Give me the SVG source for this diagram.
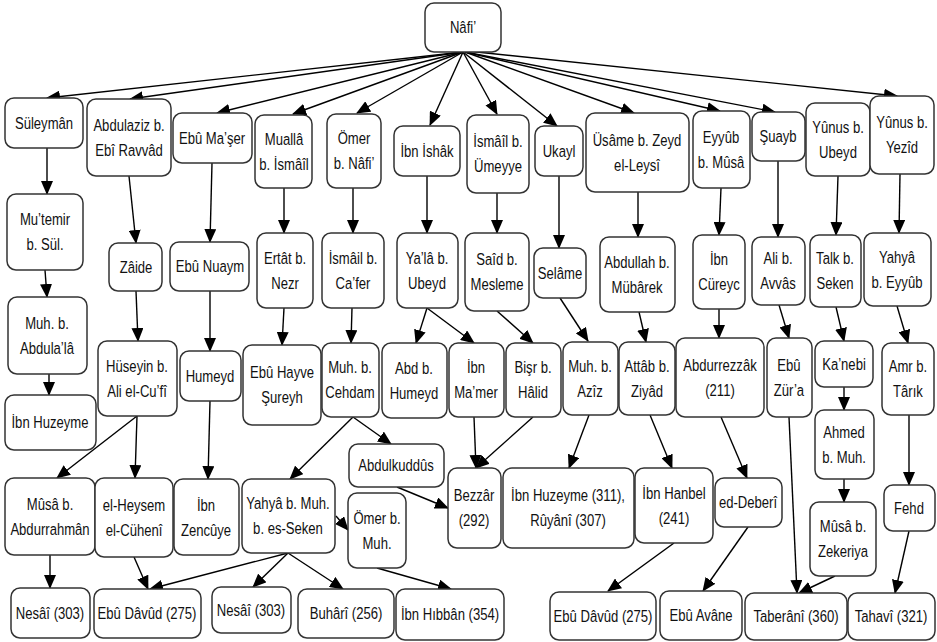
<svg xmlns="http://www.w3.org/2000/svg" width="937" height="642" viewBox="0 0 937 642">
<defs>
<marker id="ah" markerUnits="userSpaceOnUse" markerWidth="14" markerHeight="12" refX="13" refY="6" orient="auto">
<path d="M0,0 L14,6 L0,12 z" fill="#000"/>
</marker>
<style>
rect{fill:#fff;stroke:#333;stroke-width:1.5}
text{font-family:"Liberation Sans",Arial,sans-serif;font-size:17px;fill:#111;text-anchor:middle}
#edges line{stroke:#000;stroke-width:1.4;marker-end:url(#ah)}
</style>
</defs>
<rect x="0" y="0" width="937" height="642" style="fill:#fff;stroke:none"/>
<g id="edges">
<line x1="463" y1="52" x2="47" y2="98"/>
<line x1="463" y1="52" x2="130" y2="99"/>
<line x1="463" y1="52" x2="217" y2="113"/>
<line x1="463" y1="52" x2="293" y2="114"/>
<line x1="463" y1="52" x2="357" y2="113"/>
<line x1="463" y1="52" x2="430" y2="125"/>
<line x1="463" y1="52" x2="497" y2="114"/>
<line x1="463" y1="52" x2="557" y2="126"/>
<line x1="465" y1="52" x2="634" y2="113"/>
<line x1="465" y1="52" x2="720" y2="111"/>
<line x1="465" y1="52" x2="775" y2="112"/>
<line x1="467" y1="51" x2="897" y2="96"/>
<line x1="47" y1="148" x2="47" y2="194"/>
<line x1="45" y1="270" x2="47" y2="297"/>
<line x1="49" y1="374" x2="49" y2="395"/>
<line x1="129" y1="176" x2="136" y2="243"/>
<line x1="212" y1="163" x2="210" y2="242"/>
<line x1="284" y1="188" x2="284" y2="233"/>
<line x1="353" y1="188" x2="353" y2="233"/>
<line x1="427" y1="176" x2="427" y2="233"/>
<line x1="497" y1="193" x2="497" y2="233"/>
<line x1="559" y1="176" x2="559" y2="248"/>
<line x1="638" y1="192" x2="638" y2="237"/>
<line x1="721" y1="188" x2="719" y2="235"/>
<line x1="778" y1="161" x2="778" y2="237"/>
<line x1="838" y1="176" x2="836" y2="235"/>
<line x1="900" y1="174" x2="899" y2="233"/>
<line x1="136" y1="291" x2="138" y2="341"/>
<line x1="210" y1="291" x2="210" y2="351"/>
<line x1="284" y1="308" x2="282" y2="345"/>
<line x1="352" y1="308" x2="351" y2="343"/>
<line x1="427" y1="308" x2="416" y2="343"/>
<line x1="427" y1="308" x2="474" y2="343"/>
<line x1="497" y1="311" x2="533" y2="343"/>
<line x1="560" y1="298" x2="588" y2="341"/>
<line x1="639" y1="312" x2="646" y2="342"/>
<line x1="719" y1="309" x2="719" y2="338"/>
<line x1="779" y1="305" x2="789" y2="338"/>
<line x1="836" y1="307" x2="844" y2="341"/>
<line x1="897" y1="306" x2="908" y2="343"/>
<line x1="353" y1="417" x2="290" y2="479"/>
<line x1="353" y1="417" x2="391" y2="444"/>
<line x1="137" y1="416" x2="57" y2="478"/>
<line x1="137" y1="416" x2="135" y2="478"/>
<line x1="210" y1="401" x2="208" y2="479"/>
<line x1="474" y1="417" x2="476" y2="468"/>
<line x1="533" y1="417" x2="476" y2="468"/>
<line x1="397" y1="487" x2="448" y2="508"/>
<line x1="589" y1="415" x2="569" y2="468"/>
<line x1="650" y1="415" x2="672" y2="468"/>
<line x1="721" y1="417" x2="747" y2="478"/>
<line x1="789" y1="417" x2="797" y2="593"/>
<line x1="844" y1="387" x2="844" y2="410"/>
<line x1="844" y1="479" x2="844" y2="502"/>
<line x1="835" y1="576" x2="799" y2="593"/>
<line x1="909" y1="415" x2="909" y2="485"/>
<line x1="909" y1="531" x2="895" y2="593"/>
<line x1="674" y1="543" x2="608" y2="591"/>
<line x1="748" y1="527" x2="703" y2="591"/>
<line x1="50" y1="555" x2="50" y2="588"/>
<line x1="134" y1="557" x2="148" y2="589"/>
<line x1="288" y1="553" x2="150" y2="589"/>
<line x1="288" y1="553" x2="253" y2="587"/>
<line x1="288" y1="553" x2="343" y2="589"/>
<line x1="336" y1="516" x2="348" y2="530"/>
<line x1="377" y1="568" x2="451" y2="589"/>
</g>
<g id="n-nafi"><rect x="425" y="3" width="76" height="49" rx="9"/><text transform="translate(463 0) scale(.77 1)" x="0" y="33">Nâfi’</text></g>
<g id="n-suleyman"><rect x="5" y="98" width="78" height="50" rx="9"/><text transform="translate(44 0) scale(.77 1)" x="0" y="129">Süleymân</text></g>
<g id="n-abdulaziz"><rect x="87" y="99" width="84" height="77" rx="9"/><text transform="translate(129 0) scale(.77 1)" x="0" y="131">Abdulaziz b.<tspan x="0" dy="25">Ebî Ravvâd</tspan></text></g>
<g id="n-ebumaser"><rect x="173" y="113" width="79" height="50" rx="9"/><text transform="translate(212 0) scale(.77 1)" x="0" y="144">Ebû Ma’şer</text></g>
<g id="n-mualla"><rect x="255" y="115" width="57" height="73" rx="9"/><text transform="translate(284 0) scale(.77 1)" x="0" y="145">Muallâ<tspan x="0" dy="25">b. İsmâîl</tspan></text></g>
<g id="n-omer"><rect x="327" y="114" width="54" height="74" rx="9"/><text transform="translate(354 0) scale(.77 1)" x="0" y="144">Ömer<tspan x="0" dy="25">b. Nâfi’</tspan></text></g>
<g id="n-ibnishak"><rect x="394" y="126" width="66" height="50" rx="9"/><text transform="translate(427 0) scale(.77 1)" x="0" y="157">İbn İshâk</text></g>
<g id="n-ismail"><rect x="467" y="115" width="62" height="78" rx="9"/><text transform="translate(498 0) scale(.77 1)" x="0" y="147">İsmâîl b.<tspan x="0" dy="25">Ümeyye</tspan></text></g>
<g id="n-ukayl"><rect x="535" y="126" width="48" height="50" rx="9"/><text transform="translate(559 0) scale(.77 1)" x="0" y="157">Ukayl</text></g>
<g id="n-usame"><rect x="586" y="113" width="103" height="79" rx="9"/><text transform="translate(637 0) scale(.77 1)" x="0" y="146">Üsâme b. Zeyd<tspan x="0" dy="25">el-Leysî</tspan></text></g>
<g id="n-eyyub"><rect x="693" y="111" width="57" height="77" rx="9"/><text transform="translate(721 0) scale(.77 1)" x="0" y="143">Eyyûb<tspan x="0" dy="25">b. Mûsâ</tspan></text></g>
<g id="n-suayb"><rect x="752" y="112" width="53" height="49" rx="9"/><text transform="translate(778 0) scale(.77 1)" x="0" y="142">Şuayb</text></g>
<g id="n-yunusu"><rect x="806" y="103" width="64" height="73" rx="9"/><text transform="translate(838 0) scale(.77 1)" x="0" y="133">Yûnus b.<tspan x="0" dy="25">Ubeyd</tspan></text></g>
<g id="n-yunusy"><rect x="870" y="96" width="64" height="78" rx="9"/><text transform="translate(902 0) scale(.77 1)" x="0" y="128">Yûnus b.<tspan x="0" dy="25">Yezîd</tspan></text></g>
<g id="n-mutemir"><rect x="7" y="194" width="76" height="76" rx="9"/><text transform="translate(45 0) scale(.77 1)" x="0" y="225">Mu’temir<tspan x="0" dy="25">b. Sül.</tspan></text></g>
<g id="n-zaide"><rect x="109" y="243" width="53" height="48" rx="9"/><text transform="translate(136 0) scale(.77 1)" x="0" y="273">Zâide</text></g>
<g id="n-ebunuaym"><rect x="170" y="242" width="79" height="49" rx="9"/><text transform="translate(210 0) scale(.77 1)" x="0" y="272">Ebû Nuaym</text></g>
<g id="n-ertat"><rect x="257" y="233" width="56" height="75" rx="9"/><text transform="translate(285 0) scale(.77 1)" x="0" y="264">Ertât b.<tspan x="0" dy="25">Nezr</tspan></text></g>
<g id="n-ismailc"><rect x="322" y="233" width="62" height="75" rx="9"/><text transform="translate(353 0) scale(.77 1)" x="0" y="264">İsmâil b.<tspan x="0" dy="25">Ca’fer</tspan></text></g>
<g id="n-yala"><rect x="397" y="233" width="61" height="75" rx="9"/><text transform="translate(427 0) scale(.77 1)" x="0" y="264">Ya’lâ b.<tspan x="0" dy="25">Ubeyd</tspan></text></g>
<g id="n-said"><rect x="465" y="233" width="64" height="78" rx="9"/><text transform="translate(497 0) scale(.77 1)" x="0" y="265">Saîd b.<tspan x="0" dy="25">Mesleme</tspan></text></g>
<g id="n-selame"><rect x="534" y="248" width="52" height="50" rx="9"/><text transform="translate(560 0) scale(.77 1)" x="0" y="279">Selâme</text></g>
<g id="n-abdullah"><rect x="600" y="237" width="75" height="75" rx="9"/><text transform="translate(637 0) scale(.77 1)" x="0" y="268">Abdullah b.<tspan x="0" dy="25">Mübârek</tspan></text></g>
<g id="n-ibncureyc"><rect x="693" y="235" width="52" height="74" rx="9"/><text transform="translate(719 0) scale(.77 1)" x="0" y="265">İbn<tspan x="0" dy="25">Cüreyc</tspan></text></g>
<g id="n-ali"><rect x="752" y="237" width="53" height="68" rx="9"/><text transform="translate(778 0) scale(.77 1)" x="0" y="264">Ali b.<tspan x="0" dy="25">Avvâs</tspan></text></g>
<g id="n-talk"><rect x="810" y="235" width="51" height="72" rx="9"/><text transform="translate(835 0) scale(.77 1)" x="0" y="264">Talk b.<tspan x="0" dy="25">Seken</tspan></text></g>
<g id="n-yahyae"><rect x="864" y="233" width="67" height="73" rx="9"/><text transform="translate(897 0) scale(.77 1)" x="0" y="263">Yahyâ<tspan x="0" dy="25">b. Eyyûb</tspan></text></g>
<g id="n-muhabd"><rect x="8" y="297" width="79" height="77" rx="9"/><text transform="translate(47 0) scale(.77 1)" x="0" y="329">Muh. b.<tspan x="0" dy="25">Abdula’lâ</tspan></text></g>
<g id="n-ibnhuz1"><rect x="5" y="395" width="91" height="55" rx="9"/><text transform="translate(50 0) scale(.77 1)" x="0" y="428">İbn Huzeyme</text></g>
<g id="n-huseyin"><rect x="98" y="341" width="79" height="75" rx="9"/><text transform="translate(137 0) scale(.77 1)" x="0" y="372">Hüseyin b.<tspan x="0" dy="25">Ali el-Cu’fî</tspan></text></g>
<g id="n-humeyd"><rect x="180" y="351" width="61" height="50" rx="9"/><text transform="translate(210 0) scale(.77 1)" x="0" y="382">Humeyd</text></g>
<g id="n-ebuhayve"><rect x="243" y="345" width="78" height="80" rx="9"/><text transform="translate(282 0) scale(.77 1)" x="0" y="378">Ebû Hayve<tspan x="0" dy="25">Şureyh</tspan></text></g>
<g id="n-cehdam"><rect x="322" y="343" width="57" height="74" rx="9"/><text transform="translate(350 0) scale(.77 1)" x="0" y="373">Muh. b.<tspan x="0" dy="25">Cehdam</tspan></text></g>
<g id="n-abd"><rect x="382" y="343" width="65" height="75" rx="9"/><text transform="translate(414 0) scale(.77 1)" x="0" y="374">Abd b.<tspan x="0" dy="25">Humeyd</tspan></text></g>
<g id="n-ibnmamer"><rect x="449" y="343" width="55" height="74" rx="9"/><text transform="translate(476 0) scale(.77 1)" x="0" y="373">İbn<tspan x="0" dy="25">Ma’mer</tspan></text></g>
<g id="n-bisr"><rect x="506" y="343" width="55" height="74" rx="9"/><text transform="translate(533 0) scale(.77 1)" x="0" y="373">Bişr b.<tspan x="0" dy="25">Hâlid</tspan></text></g>
<g id="n-muhaziz"><rect x="563" y="342" width="55" height="73" rx="9"/><text transform="translate(590 0) scale(.77 1)" x="0" y="372">Muh. b.<tspan x="0" dy="25">Azîz</tspan></text></g>
<g id="n-attab"><rect x="619" y="342" width="56" height="73" rx="9"/><text transform="translate(647 0) scale(.77 1)" x="0" y="372">Attâb b.<tspan x="0" dy="25">Ziyâd</tspan></text></g>
<g id="n-abdurrezzak"><rect x="676" y="338" width="88" height="79" rx="9"/><text transform="translate(720 0) scale(.77 1)" x="0" y="371">Abdurrezzâk<tspan x="0" dy="25">(211)</tspan></text></g>
<g id="n-ebuzura"><rect x="767" y="338" width="45" height="79" rx="9"/><text transform="translate(789 0) scale(.77 1)" x="0" y="371">Ebû<tspan x="0" dy="25">Zür’a</tspan></text></g>
<g id="n-kanebi"><rect x="815" y="341" width="58" height="46" rx="9"/><text transform="translate(844 0) scale(.77 1)" x="0" y="370">Ka’nebi</text></g>
<g id="n-amr"><rect x="882" y="343" width="52" height="72" rx="9"/><text transform="translate(908 0) scale(.77 1)" x="0" y="372">Amr b.<tspan x="0" dy="25">Târık</tspan></text></g>
<g id="n-ahmed"><rect x="815" y="410" width="59" height="69" rx="9"/><text transform="translate(844 0) scale(.77 1)" x="0" y="438">Ahmed<tspan x="0" dy="25">b. Muh.</tspan></text></g>
<g id="n-abdulkuddus"><rect x="349" y="444" width="95" height="43" rx="9"/><text transform="translate(396 0) scale(.77 1)" x="0" y="471">Abdulkuddûs</text></g>
<g id="n-bezzar"><rect x="448" y="468" width="53" height="80" rx="9"/><text transform="translate(474 0) scale(.77 1)" x="0" y="501">Bezzâr<tspan x="0" dy="25">(292)</tspan></text></g>
<g id="n-musaa"><rect x="5" y="478" width="90" height="77" rx="9"/><text transform="translate(50 0) scale(.77 1)" x="0" y="510">Mûsâ b.<tspan x="0" dy="25">Abdurrahmân</tspan></text></g>
<g id="n-heysem"><rect x="95" y="478" width="78" height="79" rx="9"/><text transform="translate(134 0) scale(.77 1)" x="0" y="511">el-Heysem<tspan x="0" dy="25">el-Cühenî</tspan></text></g>
<g id="n-ibnzencuye"><rect x="174" y="479" width="65" height="76" rx="9"/><text transform="translate(206 0) scale(.77 1)" x="0" y="511">İbn<tspan x="0" dy="25">Zencûye</tspan></text></g>
<g id="n-yahyam"><rect x="242" y="479" width="93" height="74" rx="9"/><text transform="translate(288 0) scale(.77 1)" x="0" y="509">Yahyâ b. Muh.<tspan x="0" dy="25">b. es-Seken</tspan></text></g>
<g id="n-omerm"><rect x="348" y="493" width="58" height="75" rx="9"/><text transform="translate(377 0) scale(.77 1)" x="0" y="524">Ömer b.<tspan x="0" dy="25">Muh.</tspan></text></g>
<g id="n-ibnhuz2"><rect x="503" y="468" width="131" height="80" rx="9"/><text transform="translate(568 0) scale(.77 1)" x="0" y="501">İbn Huzeyme (311),<tspan x="0" dy="25">Rûyânî (307)</tspan></text></g>
<g id="n-ibnhanbel"><rect x="635" y="468" width="78" height="75" rx="9"/><text transform="translate(674 0) scale(.77 1)" x="0" y="499">İbn Hanbel<tspan x="0" dy="25">(241)</tspan></text></g>
<g id="n-deberi"><rect x="715" y="478" width="67" height="49" rx="9"/><text transform="translate(748 0) scale(.77 1)" x="0" y="508">ed-Deberî</text></g>
<g id="n-musaz"><rect x="810" y="502" width="66" height="74" rx="9"/><text transform="translate(843 0) scale(.77 1)" x="0" y="532">Mûsâ b.<tspan x="0" dy="25">Zekeriya</tspan></text></g>
<g id="n-fehd"><rect x="884" y="485" width="51" height="46" rx="9"/><text transform="translate(909 0) scale(.77 1)" x="0" y="514">Fehd</text></g>
<g id="n-nesai1"><rect x="11" y="588" width="79" height="50" rx="9"/><text transform="translate(50 0) scale(.77 1)" x="0" y="619">Nesâî (303)</text></g>
<g id="n-ebudavud1"><rect x="94" y="589" width="107" height="49" rx="9"/><text transform="translate(147 0) scale(.77 1)" x="0" y="619">Ebû Dâvûd (275)</text></g>
<g id="n-nesai2"><rect x="212" y="587" width="79" height="46" rx="9"/><text transform="translate(251 0) scale(.77 1)" x="0" y="616">Nesâî (303)</text></g>
<g id="n-buhari"><rect x="298" y="589" width="96" height="49" rx="9"/><text transform="translate(346 0) scale(.77 1)" x="0" y="619">Buhârî (256)</text></g>
<g id="n-ibnhibban"><rect x="396" y="589" width="108" height="51" rx="9"/><text transform="translate(450 0) scale(.77 1)" x="0" y="620">İbn Hıbbân (354)</text></g>
<g id="n-ebudavud2"><rect x="550" y="592" width="106" height="48" rx="9"/><text transform="translate(603 0) scale(.77 1)" x="0" y="622">Ebû Dâvûd (275)</text></g>
<g id="n-ebuavane"><rect x="660" y="591" width="82" height="49" rx="9"/><text transform="translate(701 0) scale(.77 1)" x="0" y="621">Ebû Avâne</text></g>
<g id="n-taberani"><rect x="745" y="593" width="102" height="47" rx="9"/><text transform="translate(796 0) scale(.77 1)" x="0" y="622">Taberânî (360)</text></g>
<g id="n-tahavi"><rect x="848" y="593" width="87" height="47" rx="9"/><text transform="translate(891 0) scale(.77 1)" x="0" y="622">Tahavî (321)</text></g>
</svg>
